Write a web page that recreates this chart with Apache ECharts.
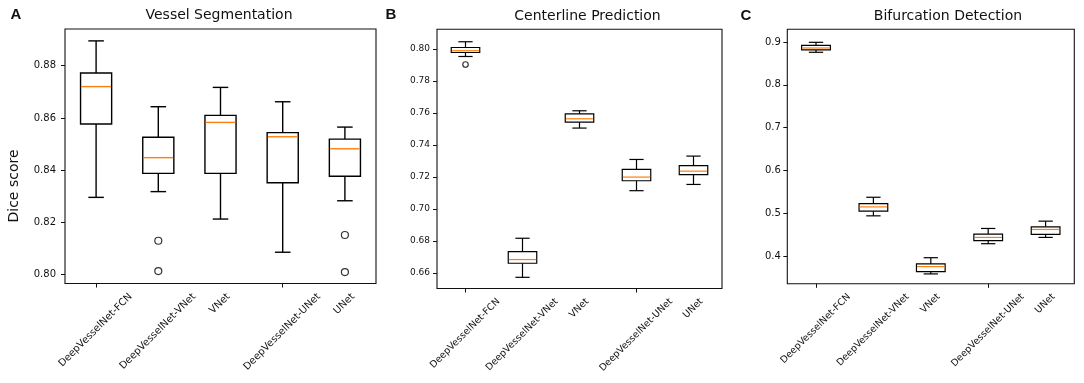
<!DOCTYPE html>
<html><head><meta charset="utf-8">
<script src="https://cdn.jsdelivr.net/npm/echarts@6/dist/echarts.min.js"></script>
<style>html,body{margin:0;padding:0;background:#fff}#c{width:1084px;height:383px}</style>
</head><body><div id="c"></div>
<script>
// ---------------- data ----------------
const categories = ['DeepVesselNet-FCN', 'DeepVesselNet-VNet', 'VNet', 'DeepVesselNet-UNet', 'UNet'];
const titles = ['Vessel Segmentation', 'Centerline Prediction', 'Bifurcation Detection'];
const panelLetters = ['A', 'B', 'C'];
const yAxisTitle = 'Dice score';

// each box: [low whisker, Q1, median, Q3, high whisker]
const vesselBoxes = [
  [0.8296, 0.8577, 0.8720, 0.8772, 0.8895],
  [0.8318, 0.8388, 0.8448, 0.8526, 0.8643],
  [0.8213, 0.8388, 0.8583, 0.8610, 0.8717],
  [0.8086, 0.8352, 0.8528, 0.8544, 0.8662],
  [0.8283, 0.8377, 0.8482, 0.8519, 0.8565]
];
const vesselOutliers = [[1, 0.8130], [1, 0.8014], [4, 0.8152], [4, 0.8010]];

const centerlineBoxes = [
  [0.7952, 0.7977, 0.7988, 0.8008, 0.8044],
  [0.6573, 0.6661, 0.6684, 0.6733, 0.6817],
  [0.7505, 0.7542, 0.7563, 0.7594, 0.7613],
  [0.7114, 0.7176, 0.7199, 0.7247, 0.7309],
  [0.7153, 0.7214, 0.7236, 0.7270, 0.7330]
];
const centerlineOutliers = [[0, 0.7902]];

const bifurcationBoxes = [
  [0.8760, 0.8814, 0.8860, 0.8923, 0.8993],
  [0.4938, 0.5047, 0.5147, 0.5225, 0.5372],
  [0.3581, 0.3635, 0.3752, 0.3814, 0.3960],
  [0.4287, 0.4357, 0.4434, 0.4512, 0.4643],
  [0.4434, 0.4504, 0.4620, 0.4682, 0.4814]
];
const bifurcationOutliers = [];

const vesselTicks = [0.80, 0.82, 0.84, 0.86, 0.88];
const centerlineTicks = [0.66, 0.68, 0.70, 0.72, 0.74, 0.76, 0.78, 0.80];
const bifurcationTicks = [0.4, 0.5, 0.6, 0.7, 0.8, 0.9];

// ---------------- layout ----------------
const panels = [
  {grid: {left: 65, top: 29, width: 311, height: 254.5}, yMin: 0.79663, yMax: 0.89405,
   boxes: vesselBoxes, outliers: vesselOutliers, ticks: vesselTicks, dec: 2,
   tickFont: 10, margin: 9, lw: 1.4, sym: 7, xFont: 10},
  {grid: {left: 437, top: 29.3, width: 285, height: 259.2}, yMin: 0.65032, yMax: 0.81218,
   boxes: centerlineBoxes, outliers: centerlineOutliers, ticks: centerlineTicks, dec: 2,
   tickFont: 9, margin: 7, lw: 1.2, sym: 5.5, xFont: 9.5},
  {grid: {left: 787.3, top: 29.3, width: 287, height: 254.5}, yMin: 0.335, yMax: 0.9297,
   boxes: bifurcationBoxes, outliers: bifurcationOutliers, ticks: bifurcationTicks, dec: 1,
   tickFont: 10, margin: 6.5, lw: 1.2, sym: 5.5, xFont: 9.5}
];

const FONT = '"DejaVu Sans", Verdana, sans-serif';
const measureCtx = document.createElement('canvas').getContext('2d');
function textWidth(t, size) {
  measureCtx.font = size + 'px "DejaVu Sans"';
  return measureCtx.measureText(t).width;
}

function boxRender(lw) {
  return function (params, api) {
    const i = api.value(0);
    const band = api.size([1, 0])[0];
    const bw = band * 0.5, cw = band * 0.25;
    const pLow = api.coord([i, api.value(1)]);
    const pQ1 = api.coord([i, api.value(2)]);
    const pMed = api.coord([i, api.value(3)]);
    const pQ3 = api.coord([i, api.value(4)]);
    const pHigh = api.coord([i, api.value(5)]);
    const x = pQ1[0];
    const st = {stroke: '#000', lineWidth: lw, fill: null};
    return {type: 'group', children: [
      {type: 'line', shape: {x1: x, y1: pQ3[1], x2: x, y2: pHigh[1]}, style: st},
      {type: 'line', shape: {x1: x, y1: pQ1[1], x2: x, y2: pLow[1]}, style: st},
      {type: 'line', shape: {x1: x - cw / 2, y1: pHigh[1], x2: x + cw / 2, y2: pHigh[1]}, style: st},
      {type: 'line', shape: {x1: x - cw / 2, y1: pLow[1], x2: x + cw / 2, y2: pLow[1]}, style: st},
      {type: 'rect', shape: {x: x - bw / 2, y: pQ3[1], width: bw, height: pQ1[1] - pQ3[1]},
       style: {stroke: '#000', fill: '#fff', lineWidth: lw}},
      {type: 'line', shape: {x1: x - bw / 2 + lw / 2, y1: pMed[1], x2: x + bw / 2 - lw / 2, y2: pMed[1]},
       style: {stroke: '#ff7f0e', lineWidth: lw}}
    ]};
  };
}

function labelRender(size) {
  return function (params, api) {
    const i = api.value(0);
    const cs = params.coordSys;
    const tickX = api.coord([i, api.value(1)])[0];
    const axisY = cs.y + cs.height;
    const text = categories[i];
    const L = textWidth(text, size);
    const h = size * 1.17;
    const ox = tickX + 0.7071 * (L - h) / 2;
    const oy = axisY + 8;
    return {type: 'text', x: ox, y: oy, rotation: Math.PI / 4,
      style: {text: text, font: size + 'px ' + FONT, fill: '#111', align: 'right', verticalAlign: 'top'}};
  };
}

const grids = [], xAxes = [], yAxes = [], series = [];
panels.forEach((p, k) => {
  grids.push(Object.assign({show: true, borderColor: '#111', borderWidth: 1.1, backgroundColor: '#fff'}, p.grid));
  xAxes.push({type: 'category', gridIndex: k, data: categories, boundaryGap: true,
    axisLine: {show: false}, axisTick: {show: true, alignWithLabel: true, length: 4, lineStyle: {color: '#111'}},
    axisLabel: {show: false}, splitLine: {show: false}});
  yAxes.push({type: 'value', gridIndex: k, min: p.yMin, max: p.yMax, scale: true,
    axisLine: {show: false},
    axisTick: {show: true, length: 4, customValues: p.ticks, lineStyle: {color: '#111'}},
    axisLabel: {show: true, customValues: p.ticks, margin: p.margin, color: '#111',
      fontFamily: FONT, fontSize: p.tickFont, formatter: v => Number(v).toFixed(p.dec)},
    splitLine: {show: false}});
  series.push({type: 'custom', xAxisIndex: k, yAxisIndex: k, silent: true, clip: false,
    renderItem: boxRender(p.lw), encode: {x: 0, y: [1, 2, 3, 4, 5]},
    data: p.boxes.map((b, i) => [i].concat(b)), z: 2});
  series.push({type: 'scatter', xAxisIndex: k, yAxisIndex: k, silent: true, symbol: 'circle',
    symbolSize: p.sym, data: p.outliers,
    itemStyle: {color: 'rgba(255,255,255,0)', borderColor: '#000', borderWidth: 1.2}, z: 3});
  series.push({type: 'custom', xAxisIndex: k, yAxisIndex: k, silent: true, clip: false,
    renderItem: labelRender(p.xFont), encode: {x: 0, y: 1},
    data: categories.map((c, i) => [i, p.yMin]), z: 4});
});

const titleCenters = [[219, 15], [587.5, 16], [948, 16]];
const letterCenters = [[16, 15], [391, 15], [746, 16]];
const graphic = [];
titles.forEach((t, k) => {
  graphic.push({type: 'text', x: titleCenters[k][0], y: titleCenters[k][1], silent: true,
    style: {text: t, font: '14px ' + FONT, fill: '#111', align: 'center', verticalAlign: 'middle'}});
  graphic.push({type: 'text', x: letterCenters[k][0], y: letterCenters[k][1], silent: true,
    style: {text: panelLetters[k], font: 'bold 15px "Liberation Sans", Arial, sans-serif', fill: '#111',
      align: 'center', verticalAlign: 'middle'}});
});
graphic.push({type: 'text', x: 14, y: 186, rotation: Math.PI / 2, silent: true,
  style: {text: yAxisTitle, font: '14px ' + FONT, fill: '#111', align: 'center', verticalAlign: 'middle'}});

const chart = echarts.init(document.getElementById('c'), null, {renderer: 'canvas'});
chart.setOption({
  animation: false,
  backgroundColor: '#fff',
  grid: grids, xAxis: xAxes, yAxis: yAxes, series: series, graphic: graphic
});
</script>
</body></html>
